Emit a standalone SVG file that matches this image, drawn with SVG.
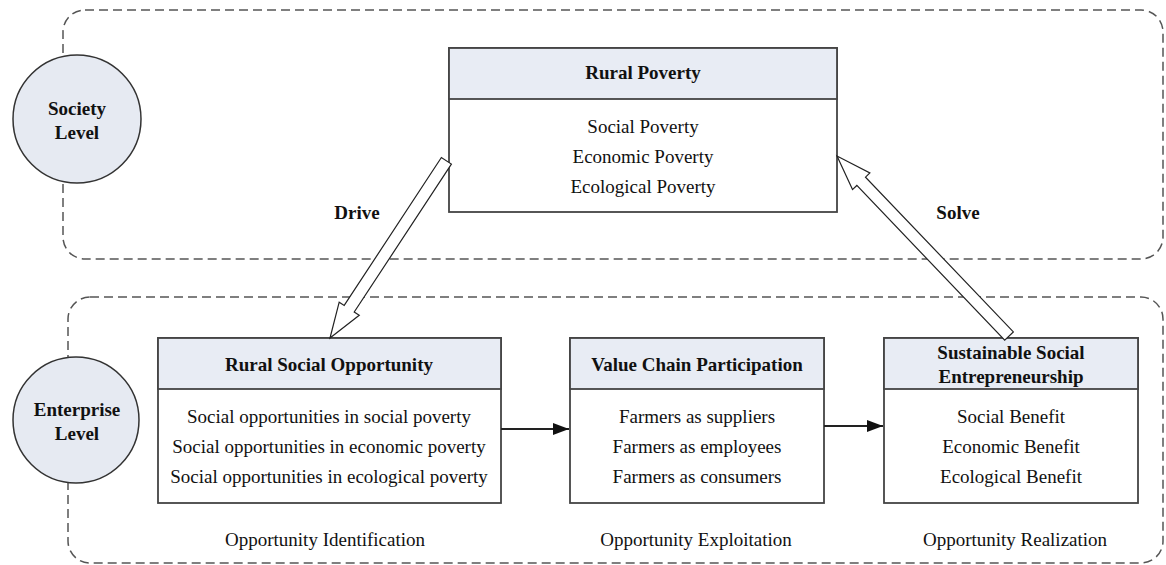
<svg xmlns="http://www.w3.org/2000/svg" width="1166" height="565" viewBox="0 0 1166 565">
<defs>
<style>
.lvl{fill:none;stroke:#555;stroke-width:1.5;stroke-dasharray:9,5}
.circ{fill:#e6eaf2;stroke:#333;stroke-width:1.5}
.box{fill:#fff;stroke:#444;stroke-width:1.8}
.hdr{fill:#e8ecf4;stroke:#444;stroke-width:1.8}
.t{font-family:"Liberation Serif","Times New Roman",serif;font-size:19px;fill:#111;text-anchor:middle}
.b{font-weight:bold}
.hollow{fill:#fff;stroke:#222;stroke-width:1.2;stroke-linejoin:miter}
.con{stroke:#222;stroke-width:2;fill:none}
</style>
<marker id="ah" markerWidth="16" markerHeight="12" refX="16" refY="6" orient="auto" markerUnits="userSpaceOnUse">
<path d="M0,0 L16,6 L0,12 Z" fill="#111"/>
</marker>
</defs>
<g id="society-level">
<rect class="lvl" x="63" y="10" width="1100" height="249" rx="22"/>
<circle class="circ" cx="77" cy="119" r="64"/>
<text class="t b" x="77" y="115">Society</text>
<text class="t b" x="77" y="139">Level</text>
</g>
<g id="enterprise-level">
<rect class="lvl" x="68" y="297" width="1095" height="266" rx="22"/>
<circle class="circ" cx="76" cy="420" r="63"/>
<text class="t b" x="77" y="416">Enterprise</text>
<text class="t b" x="77" y="440">Level</text>
</g>
<g id="rural-poverty">
<rect class="box" x="449" y="48" width="388" height="164"/>
<rect class="hdr" x="449" y="48" width="388" height="51"/>
<text class="t b" x="643" y="79">Rural Poverty</text>
<text class="t" x="643" y="133">Social Poverty</text>
<text class="t" x="643" y="163">Economic Poverty</text>
<text class="t" x="643" y="193">Ecological Poverty</text>
</g>
<g id="rural-social-opportunity">
<rect class="box" x="158" y="338" width="343" height="165"/>
<rect class="hdr" x="158" y="338" width="343" height="51"/>
<text class="t b" x="329" y="371">Rural Social Opportunity</text>
<text class="t" x="329" y="423">Social opportunities in social poverty</text>
<text class="t" x="329" y="453">Social opportunities in economic poverty</text>
<text class="t" x="329" y="483">Social opportunities in ecological poverty</text>
<text class="t" x="325" y="546">Opportunity Identification</text>
</g>
<g id="value-chain-participation">
<rect class="box" x="570" y="338" width="254" height="165"/>
<rect class="hdr" x="570" y="338" width="254" height="51"/>
<text class="t b" x="697" y="371">Value Chain Participation</text>
<text class="t" x="697" y="423">Farmers as suppliers</text>
<text class="t" x="697" y="453">Farmers as employees</text>
<text class="t" x="697" y="483">Farmers as consumers</text>
<text class="t" x="696" y="546">Opportunity Exploitation</text>
</g>
<g id="sustainable-social-entrepreneurship">
<rect class="box" x="884" y="338" width="254" height="165"/>
<rect class="hdr" x="884" y="338" width="254" height="51"/>
<text class="t b" x="1011" y="359">Sustainable Social</text>
<text class="t b" x="1011" y="383">Entrepreneurship</text>
<text class="t" x="1011" y="423">Social Benefit</text>
<text class="t" x="1011" y="453">Economic Benefit</text>
<text class="t" x="1011" y="483">Ecological Benefit</text>
<text class="t" x="1015" y="546">Opportunity Realization</text>
</g>
<g id="connectors">
<polygon class="hollow" transform="translate(330,338) rotate(123.3)" points="0,0 -35,-12 -35,-6 -212,-6 -212,6 -35,6 -35,12"/>
<polygon class="hollow" transform="translate(837,156) rotate(-133.7)" points="0,0 -35,-12 -35,-6 -249,-6 -249,6 -35,6 -35,12"/>
<line class="con" x1="501" y1="429" x2="569" y2="429" marker-end="url(#ah)"/>
<line class="con" x1="824" y1="426" x2="883" y2="426" marker-end="url(#ah)"/>
<text class="t b" x="357" y="219">Drive</text>
<text class="t b" x="958" y="219">Solve</text>
</g>
</svg>
